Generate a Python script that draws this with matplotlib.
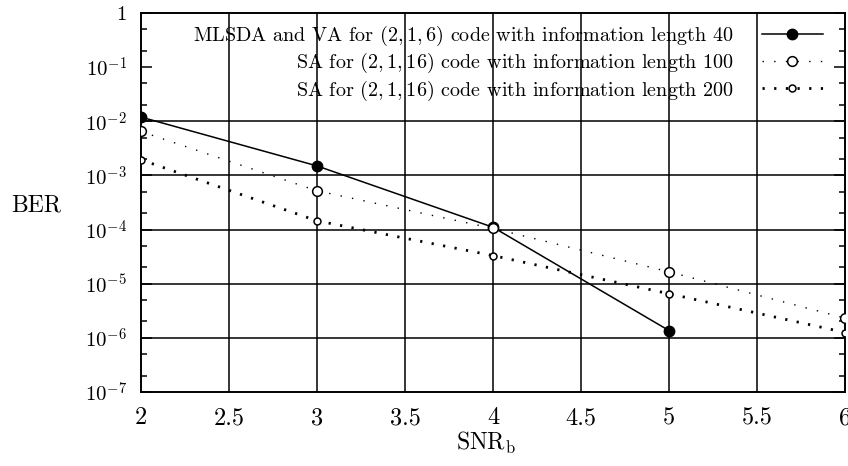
import matplotlib
matplotlib.use("Agg")
import matplotlib.pyplot as plt
from matplotlib.ticker import LogLocator, NullFormatter

plt.rcParams["font.family"] = ["cmr10", "DejaVu Serif"]
plt.rcParams["mathtext.fontset"] = "cm"
plt.rcParams["axes.formatter.use_mathtext"] = True

snr = [2, 3, 4, 5, 6]
snr_mlsda = [2, 3, 4, 5]
ber_mlsda = [1.2e-2, 1.5e-3, 1.1e-4, 1.35e-6]
ber_sa100 = [6.5e-3, 5.2e-4, 1.05e-4, 1.65e-5, 2.3e-6]
ber_sa200 = [1.95e-3, 1.45e-4, 3.3e-5, 6.5e-6, 1.25e-6]
grid_decades = [1e-2, 1e-3, 1e-4, 1e-5, 1e-6]
x_grid = [2.5, 3, 3.5, 4, 4.5, 5, 5.5]

labels = [
    "MLSDA and VA for $(2,1,6)$ code with information length 40",
    "SA for $(2,1,16)$ code with information length 100",
    "SA for $(2,1,16)$ code with information length 200",
]

fig = plt.figure(figsize=(8.48, 4.66), dpi=100)
ax = fig.add_axes([0.166, 0.159, 0.831, 0.813])

for x in x_grid:
    ax.axvline(x, color="black", lw=1.1, zorder=1)
for y in grid_decades:
    ax.axhline(y, color="black", lw=1.1, zorder=1)

ax.plot(snr_mlsda, ber_mlsda, color="black", lw=1.1, marker="o", ms=7.5,
        mfc="black", mec="black", label=labels[0], zorder=3)
ax.plot(snr, ber_sa100, color="black", lw=1.0, ls=(0, (1, 7.4)), marker="o",
        ms=7, mfc="white", mec="black", mew=1.1, label=labels[1], zorder=3)
ax.plot(snr, ber_sa200, color="black", lw=2.0, ls=(0, (0.8, 3.4)), marker="o",
        ms=5, mfc="white", mec="black", mew=1.1, label=labels[2], zorder=3)

ax.set_yscale("log")
ax.set_xlim(2, 6)
ax.set_ylim(1e-7, 1)
ax.set_xticks([2, 2.5, 3, 3.5, 4, 4.5, 5, 5.5, 6])
ax.set_xticklabels(["2", "2.5", "3", "3.5", "4", "4.5", "5", "5.5", "6"])
ax.yaxis.set_minor_locator(LogLocator(base=10, subs=[2, 5], numticks=20))
ax.yaxis.set_minor_formatter(NullFormatter())
yt = [1e-7, 1e-6, 1e-5, 1e-4, 1e-3, 1e-2, 1e-1, 1]
ax.set_yticks(yt)
ax.set_yticklabels([r"$10^{-%d}$" % k for k in range(7, 0, -1)] + ["1"])

ax.tick_params(axis="both", which="both", direction="in",
               right=True, top=False, width=1.1)
ax.tick_params(axis="y", which="major", length=8, pad=10, labelsize=15)
ax.tick_params(axis="y", which="minor", length=4)
ax.tick_params(axis="x", which="major", length=0, pad=11, labelsize=17.5)
for s in ax.spines.values():
    s.set_linewidth(1.4)

ax.set_xlabel(r"SNR$_{\mathrm{b}}$", fontsize=17, va="center")
ax.xaxis.set_label_coords(0.49, -0.135)
ax.set_ylabel("BER", fontsize=17, rotation=0, va="center", ha="center")
ax.yaxis.set_label_coords(-0.148, 0.493)

leg = ax.legend(loc="upper right", bbox_to_anchor=(0.979, 0.992),
                markerfirst=False, frameon=False, fontsize=14.5,
                handlelength=3.0, labelspacing=0.15, borderaxespad=0,
                handletextpad=1.4)
for t in leg.get_texts():
    t.set_ha("right")

fig.savefig("out.png", dpi=100)
